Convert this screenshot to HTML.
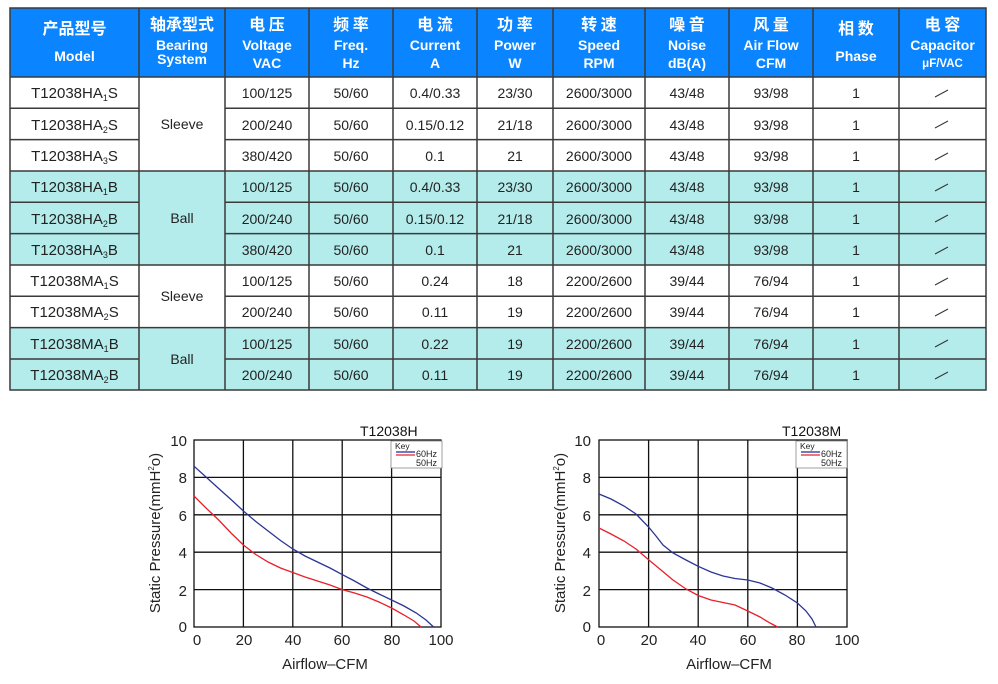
<!DOCTYPE html>
<html><head><meta charset="utf-8"><style>
body{margin:0;background:#fff}
svg{display:block}
.t{font-family:"Liberation Sans","Noto Sans CJK SC",sans-serif}
</style></head><body>
<svg width="998" height="684" viewBox="0 0 998 684" class="t">
<rect x="10" y="8" width="976" height="69" fill="#0a84ff"/>
<rect x="10" y="171" width="976" height="94" fill="#b4ecec"/>
<rect x="10" y="327.5" width="976" height="62.5" fill="#b4ecec"/>
<g fill="#fff" font-weight="bold" text-anchor="middle">
<g font-size="16" font-family="Noto Sans CJK SC, sans-serif">
<text x="74.5" y="34">产品型号</text><text x="182" y="30">轴承型式</text>
<text x="267" y="30">电 压</text><text x="351" y="30">频 率</text><text x="435" y="30">电 流</text>
<text x="515" y="30">功 率</text><text x="599" y="30">转 速</text><text x="687" y="30">噪 音</text>
<text x="771" y="30">风 量</text><text x="856" y="34">相 数</text><text x="942.5" y="30">电 容</text>
</g>
<g font-size="14">
<text x="74.5" y="61">Model</text>
<text x="182" y="50">Bearing</text><text x="182" y="64">System</text>
<text x="267" y="50">Voltage</text><text x="267" y="68">VAC</text>
<text x="351" y="50">Freq.</text><text x="351" y="68">Hz</text>
<text x="435" y="50">Current</text><text x="435" y="68">A</text>
<text x="515" y="50">Power</text><text x="515" y="68">W</text>
<text x="599" y="50">Speed</text><text x="599" y="68">RPM</text>
<text x="687" y="50">Noise</text><text x="687" y="68">dB(A)</text>
<text x="771" y="50">Air Flow</text><text x="771" y="68">CFM</text>
<text x="856" y="61">Phase</text>
<text x="942.5" y="50">Capacitor</text><text x="942.5" y="67" font-size="11.5">μF/VAC</text>
</g>
</g>
<g font-size="14" fill="#222" text-anchor="middle">
<g font-size="15">
<text x="74.5" y="98">T12038HA<tspan font-size="9" dy="3">1</tspan><tspan dy="-3">S</tspan></text>
<text x="74.5" y="130">T12038HA<tspan font-size="9" dy="3">2</tspan><tspan dy="-3">S</tspan></text>
<text x="74.5" y="161">T12038HA<tspan font-size="9" dy="3">3</tspan><tspan dy="-3">S</tspan></text>
<text x="74.5" y="192">T12038HA<tspan font-size="9" dy="3">1</tspan><tspan dy="-3">B</tspan></text>
<text x="74.5" y="224">T12038HA<tspan font-size="9" dy="3">2</tspan><tspan dy="-3">B</tspan></text>
<text x="74.5" y="255">T12038HA<tspan font-size="9" dy="3">3</tspan><tspan dy="-3">B</tspan></text>
<text x="74.5" y="286">T12038MA<tspan font-size="9" dy="3">1</tspan><tspan dy="-3">S</tspan></text>
<text x="74.5" y="317">T12038MA<tspan font-size="9" dy="3">2</tspan><tspan dy="-3">S</tspan></text>
<text x="74.5" y="349">T12038MA<tspan font-size="9" dy="3">1</tspan><tspan dy="-3">B</tspan></text>
<text x="74.5" y="380">T12038MA<tspan font-size="9" dy="3">2</tspan><tspan dy="-3">B</tspan></text>
</g>
<text x="182" y="129">Sleeve</text><text x="182" y="223">Ball</text>
<text x="182" y="301">Sleeve</text><text x="182" y="364">Ball</text>
<text x="267" y="98">100/125</text><text x="267" y="130">200/240</text><text x="267" y="161">380/420</text>
<text x="267" y="192">100/125</text><text x="267" y="224">200/240</text><text x="267" y="255">380/420</text>
<text x="267" y="286">100/125</text><text x="267" y="317">200/240</text><text x="267" y="349">100/125</text><text x="267" y="380">200/240</text>
<text x="351" y="98">50/60</text><text x="351" y="130">50/60</text><text x="351" y="161">50/60</text><text x="351" y="192">50/60</text><text x="351" y="224">50/60</text><text x="351" y="255">50/60</text><text x="351" y="286">50/60</text><text x="351" y="317">50/60</text><text x="351" y="349">50/60</text><text x="351" y="380">50/60</text>
<text x="435" y="98">0.4/0.33</text><text x="435" y="130">0.15/0.12</text><text x="435" y="161">0.1</text>
<text x="435" y="192">0.4/0.33</text><text x="435" y="224">0.15/0.12</text><text x="435" y="255">0.1</text>
<text x="435" y="286">0.24</text><text x="435" y="317">0.11</text><text x="435" y="349">0.22</text><text x="435" y="380">0.11</text>
<text x="515" y="98">23/30</text><text x="515" y="130">21/18</text><text x="515" y="161">21</text>
<text x="515" y="192">23/30</text><text x="515" y="224">21/18</text><text x="515" y="255">21</text>
<text x="515" y="286">18</text><text x="515" y="317">19</text><text x="515" y="349">19</text><text x="515" y="380">19</text>
<text x="599" y="98">2600/3000</text><text x="599" y="130">2600/3000</text><text x="599" y="161">2600/3000</text>
<text x="599" y="192">2600/3000</text><text x="599" y="224">2600/3000</text><text x="599" y="255">2600/3000</text>
<text x="599" y="286">2200/2600</text><text x="599" y="317">2200/2600</text><text x="599" y="349">2200/2600</text><text x="599" y="380">2200/2600</text>
<text x="687" y="98">43/48</text><text x="687" y="130">43/48</text><text x="687" y="161">43/48</text>
<text x="687" y="192">43/48</text><text x="687" y="224">43/48</text><text x="687" y="255">43/48</text>
<text x="687" y="286">39/44</text><text x="687" y="317">39/44</text><text x="687" y="349">39/44</text><text x="687" y="380">39/44</text>
<text x="771" y="98">93/98</text><text x="771" y="130">93/98</text><text x="771" y="161">93/98</text>
<text x="771" y="192">93/98</text><text x="771" y="224">93/98</text><text x="771" y="255">93/98</text>
<text x="771" y="286">76/94</text><text x="771" y="317">76/94</text><text x="771" y="349">76/94</text><text x="771" y="380">76/94</text>
<text x="856" y="98">1</text><text x="856" y="130">1</text><text x="856" y="161">1</text><text x="856" y="192">1</text><text x="856" y="224">1</text><text x="856" y="255">1</text><text x="856" y="286">1</text><text x="856" y="317">1</text><text x="856" y="349">1</text><text x="856" y="380">1</text>
</g>
<g stroke="#333" stroke-width="1">
<path d="M935 97l13-7M935 128l13-7M935 160l13-7M935 191l13-7M935 222l13-7M935 254l13-7M935 285l13-7M935 316l13-7M935 347l13-7M935 379l13-7"/>
</g>
<g stroke="#3a3a3a" stroke-width="1.5" fill="none">
<rect x="10" y="8" width="976" height="382"/>
<path d="M10 77H986"/>
<path d="M10 108.3H139M225 108.3H986M10 139.6H139M225 139.6H986M10 171H986M10 202.3H139M225 202.3H986M10 233.6H139M225 233.6H986M10 265H986M10 296.3H139M225 296.3H986M10 327.6H986M10 359H139M225 359H986"/>
<path d="M139 8V390M225 8V390M309 8V390M393 8V390M477 8V390M553 8V390M645 8V390M729 8V390M813 8V390M899 8V390"/>
</g>

<!-- Chart 1 -->
<g>
<rect x="194" y="440" width="247" height="187" fill="#fff" stroke="#111" stroke-width="1.3"/>
<g stroke="#111" stroke-width="1.3">
<path d="M243.4 440V627M292.8 440V627M342.2 440V627M391.6 440V627"/>
<path d="M194 477.4H441M194 514.8H441M194 552.2H441M194 589.6H441"/>
</g>
<rect x="391" y="441" width="51" height="27" fill="#fff" stroke="#888" stroke-width="0.8"/>
<text x="395" y="449" font-size="8.5" fill="#222">Key</text>
<path d="M396 452H415" stroke="#1a2a9a" stroke-width="1.2"/>
<path d="M396 455H415" stroke="#e8202a" stroke-width="1.2"/>
<text x="416" y="457" font-size="9" fill="#222">60Hz</text>
<text x="416" y="466" font-size="9" fill="#222">50Hz</text>
<polyline fill="none" stroke="#2a3594" stroke-width="1.3" points="194,466.2 206,477 218.7,488.5 231,499.5 243.4,511 255.8,521.5 268.1,531 280.5,540.5 292.8,549 305,556 317.5,562 330,568 342.2,574.6 354.5,581 366.9,588 379,594 391.6,600 404,606 416.3,613 426,620 433.6,627"/>
<polyline fill="none" stroke="#e8202a" stroke-width="1.3" points="194,496 206,508 218.7,520 231,533 243.4,545 255.8,554.5 268.1,562 280.5,568 292.8,572.5 305,577 317.5,581 330,585 342.2,589.6 354.5,593 366.9,597 379,602 391.6,608 404,615 414,621 421,627"/>
<text x="360" y="436" font-size="14" fill="#111">T12038H</text>
<g font-size="15" fill="#222" text-anchor="end">
<text x="187" y="446">10</text><text x="187" y="483">8</text><text x="187" y="521">6</text><text x="187" y="558">4</text><text x="187" y="596">2</text><text x="187" y="632">0</text>
</g>
<g font-size="15" fill="#222" text-anchor="middle">
<text x="197" y="645">0</text><text x="244" y="645">20</text><text x="293" y="645">40</text><text x="342" y="645">60</text><text x="392" y="645">80</text><text x="441" y="645">100</text>
</g>
<text x="325" y="669" font-size="15" fill="#222" text-anchor="middle">Airflow–CFM</text>
<text transform="translate(160,533) rotate(-90)" font-size="15" fill="#222" text-anchor="middle">Static Pressure(mmH<tspan font-size="8" dy="-6">2</tspan><tspan dy="6">o)</tspan></text>
</g>

<!-- Chart 2 -->
<g>
<rect x="599" y="440" width="248" height="187" fill="#fff" stroke="#111" stroke-width="1.3"/>
<g stroke="#111" stroke-width="1.3">
<path d="M648.6 440V627M698.2 440V627M747.8 440V627M797.4 440V627"/>
<path d="M599 477.4H847M599 514.8H847M599 552.2H847M599 589.6H847"/>
</g>
<rect x="796" y="441" width="51" height="27" fill="#fff" stroke="#888" stroke-width="0.8"/>
<text x="800" y="449" font-size="8.5" fill="#222">Key</text>
<path d="M801 452H820" stroke="#1a2a9a" stroke-width="1.2"/>
<path d="M801 455H820" stroke="#e8202a" stroke-width="1.2"/>
<text x="821" y="457" font-size="9" fill="#222">60Hz</text>
<text x="821" y="466" font-size="9" fill="#222">50Hz</text>
<polyline fill="none" stroke="#2a3594" stroke-width="1.3" points="599,494 611,499 624,506 636,514 648.6,527 656,536 663,545 673,553 686,560 698.2,566.3 711,572 723,576 735,578.5 747.8,580 760,583 772,588 785,595 797.4,603 806,611 812,619 816,627"/>
<polyline fill="none" stroke="#e8202a" stroke-width="1.3" points="599,528 611,534 624,541 636,549 648.6,559.7 661,570 673,580 686,589 698.2,595.5 711,600 723,602.5 735,605 747.8,611 760,617 770,623 777.6,627"/>
<text x="782" y="436" font-size="14" fill="#111">T12038M</text>
<g font-size="15" fill="#222" text-anchor="end">
<text x="591" y="446">10</text><text x="591" y="483">8</text><text x="591" y="521">6</text><text x="591" y="558">4</text><text x="591" y="596">2</text><text x="591" y="632">0</text>
</g>
<g font-size="15" fill="#222" text-anchor="middle">
<text x="601" y="645">0</text><text x="649" y="645">20</text><text x="698" y="645">40</text><text x="748" y="645">60</text><text x="797" y="645">80</text><text x="847" y="645">100</text>
</g>
<text x="729" y="669" font-size="15" fill="#222" text-anchor="middle">Airflow–CFM</text>
<text transform="translate(565,533) rotate(-90)" font-size="15" fill="#222" text-anchor="middle">Static Pressure(mmH<tspan font-size="8" dy="-6">2</tspan><tspan dy="6">o)</tspan></text>
</g>
</svg>
</body></html>
